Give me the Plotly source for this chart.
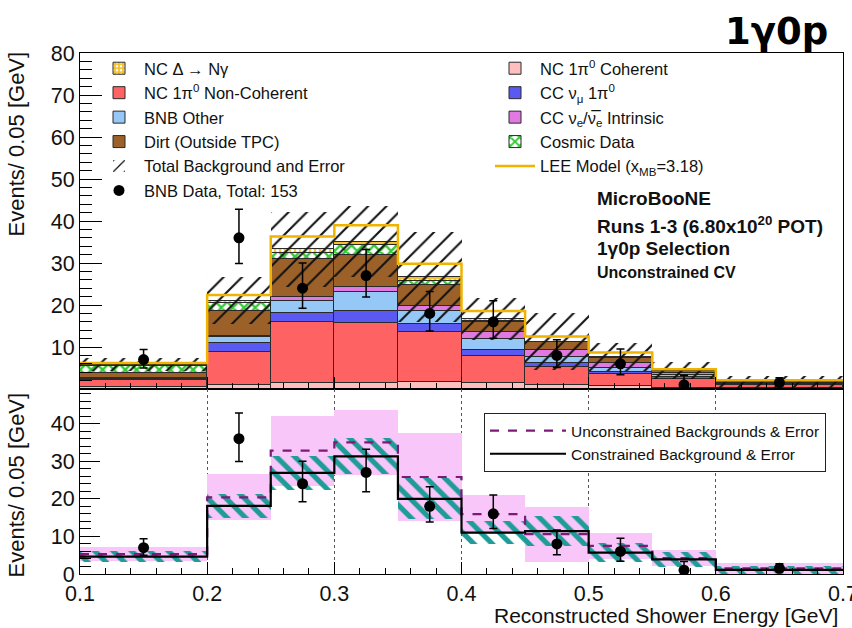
import numpy as np
import plotly.graph_objects as go

# ---------------- data ----------------
bin_edges = [0.1, 0.2, 0.25, 0.3, 0.35, 0.4, 0.45, 0.5, 0.55, 0.6, 0.7]
x_ticks = [0.1, 0.2, 0.3, 0.4, 0.5, 0.6, 0.7]

nc_coherent    = [0.4, 1.0, 1.5, 1.4, 1.7, 1.5, 1.0, 0.7, 0.3, 0.2]
nc_noncoherent = [1.7, 7.8, 14.4, 14.3, 11.9, 6.4, 4.2, 2.8, 2.1, 0.8]
cc_numu_pi0    = [0.2, 2.2, 2.2, 2.9, 1.9, 1.4, 1.1, 0.6, 0.5, 0.15]
bnb_other      = [0.2, 1.3, 2.9, 4.6, 3.1, 2.6, 1.4, 1.0, 0.4, 0.15]
cc_nue         = [0.1, 0.4, 0.8, 1.2, 1.2, 1.7, 1.6, 1.1, 0.5, 0.1]
dirt           = [1.2, 5.9, 9.1, 7.5, 5.0, 2.4, 1.8, 1.2, 0.6, 0.25]
cosmic         = [1.7, 1.8, 1.6, 2.4, 0.9, 0.2, 0.0, 0.0, 0.0, 0.0]
nc_delta       = [0.3, 0.6, 0.8, 0.8, 0.9, 0.4, 0.2, 0.2, 0.1, 0.05]
lee_model      = [6.2, 22.4, 36.3, 39.0, 29.8, 18.6, 12.5, 8.7, 4.7, 2.1]
total_bkg_err  = [1.6, 5.6, 8.9, 8.5, 10.7, 5.0, 6.8, 3.4, 2.0, 1.4]

bnb_data    = [7, 36, 24, 27, 18, 16, 8, 6, 1, 1.5]
data_err_up = [2.4, 6.8, 6.0, 6.2, 5.2, 5.0, 3.7, 3.5, 2.3, 1.2]
data_err_dn = [2.0, 6.1, 4.8, 5.1, 4.2, 3.9, 2.9, 2.6, 0.8, 0.8]

unconstrained_bkg = [5.3, 20.4, 32.8, 35.0, 25.8, 15.9, 10.6, 7.5, 4.2, 1.5]
unconstrained_err = [1.8, 6.1, 9.3, 8.6, 11.7, 5.2, 7.3, 3.5, 2.1, 1.4]
constrained_bkg   = [4.6, 18.1, 26.9, 31.3, 20.0, 11.0, 11.4, 5.7, 3.9, 1.1]
constrained_err   = [1.4, 3.1, 4.5, 4.8, 5.5, 3.0, 4.0, 2.5, 2.0, 1.1]

# ---------------- helpers ----------------
W, H = 852, 628
def fx(p): return p / W
def fy(p): return 1 - p / H

edges = np.array(bin_edges)
centers = 0.5 * (edges[:-1] + edges[1:])
widths = edges[1:] - edges[:-1]
FONT = "Liberation Sans, Arial, sans-serif"

fig = go.Figure()

# stacked components (bottom -> top)
stack = [
    (nc_coherent, "NC 1π<sup>0</sup> Coherent", "#ffbfbf", None, "legend2", 1),
    (nc_noncoherent, "NC 1π<sup>0</sup> Non-Coherent", "#ff6262", None, "legend", 2),
    (cc_numu_pi0, "CC ν<sub>μ</sub> 1π<sup>0</sup>", "#5a5af2", None, "legend2", 2),
    (bnb_other, "BNB Other", "#95c7f7", None, "legend", 3),
    (cc_nue, "CC ν<sub>e</sub>/ν̅<sub>e</sub> Intrinsic", "#e07ae0", None, "legend2", 3),
    (dirt, "Dirt (Outside TPC)", "#9c6129", None, "legend", 4),
    (cosmic, "Cosmic Data", "#ffffff",
     dict(shape="x", fgcolor="#36c836", bgcolor="#ffffff", size=8, solidity=0.5,
          fgopacity=1), "legend2", 4),
    (nc_delta, "NC Δ → Nγ", "#f4c22c",
     dict(shape=".", fgcolor="#ffffff", bgcolor="#f4c22c", size=5, solidity=0.3,
          fgopacity=1), "legend", 1),
]
base = np.zeros(len(centers))
for vals, name, color, pattern, leg, rank in stack:
    vals = np.array(vals, dtype=float)
    marker = dict(color=color, line=dict(color="#2a2a2a", width=1))
    if pattern is not None:
        marker["pattern"] = pattern
    fig.add_trace(go.Bar(
        x=centers, y=vals, base=base, width=widths, name=name, marker=marker,
        xaxis="x", yaxis="y", legend=leg, legendrank=rank))
    base = base + vals
total = base.copy()

# Total background and error (hatched)
err = np.array(total_bkg_err)
fig.add_trace(go.Bar(
    x=centers, y=2 * err, base=total - err, width=widths,
    name="Total Background and Error",
    marker=dict(color="rgba(255,255,255,0)", line=dict(width=0),
                pattern=dict(shape="/", fgcolor="#111111", fgopacity=1,
                             size=13, solidity=0.16, fillmode="overlay")),
    xaxis="x", yaxis="y", legend="legend", legendrank=5))

# LEE model step line
lee = list(lee_model) + [lee_model[-1]]
fig.add_trace(go.Scatter(
    x=edges, y=lee, mode="lines", line=dict(shape="hv", color="#f0b400", width=2.5),
    name="LEE Model (x<sub>MB</sub>=3.18)", xaxis="x", yaxis="y",
    legend="legend2", legendrank=5))

# Data (top)
fig.add_trace(go.Scatter(
    x=centers, y=bnb_data, mode="markers",
    marker=dict(color="black", size=11),
    error_y=dict(type="data", array=data_err_up, arrayminus=data_err_dn,
                 color="black", thickness=1.5, width=4),
    name="BNB Data, Total: 153", xaxis="x", yaxis="y",
    legend="legend", legendrank=6))

# ---------------- bottom panel ----------------
ue = np.array(unconstrained_err)
ub = np.array(unconstrained_bkg)
fig.add_trace(go.Bar(
    x=centers, y=2 * ue, base=ub - ue, width=widths,
    marker=dict(color="#f8c6f8", line=dict(width=0)),
    showlegend=False, xaxis="x2", yaxis="y2"))

ce = np.array(constrained_err)
cb = np.array(constrained_bkg)
fig.add_trace(go.Bar(
    x=centers, y=2 * ce, base=cb - ce, width=widths,
    marker=dict(color="rgba(255,255,255,0)", line=dict(width=0),
                pattern=dict(shape="\\", fgcolor="#1f9c98", fgopacity=1,
                             size=13, solidity=0.4, fillmode="overlay")),
    showlegend=False, xaxis="x2", yaxis="y2"))

fig.add_trace(go.Scatter(
    x=edges, y=list(unconstrained_bkg) + [unconstrained_bkg[-1]], mode="lines",
    line=dict(shape="hv", color="#7d1a78", width=2.2, dash="dash"),
    name="Unconstrained Backgrounds & Error", xaxis="x2", yaxis="y2", legend="legend3"))

fig.add_trace(go.Scatter(
    x=edges, y=list(constrained_bkg) + [constrained_bkg[-1]], mode="lines",
    line=dict(shape="hv", color="black", width=2.2),
    name="Constrained Background & Error", xaxis="x2", yaxis="y2", legend="legend3"))

fig.add_trace(go.Scatter(
    x=centers, y=bnb_data, mode="markers",
    marker=dict(color="black", size=11),
    error_y=dict(type="data", array=data_err_up, arrayminus=data_err_dn,
                 color="black", thickness=1.5, width=4),
    showlegend=False, xaxis="x2", yaxis="y2"))

# ---------------- layout ----------------
xdom = [fx(80), fx(843)]
common_x = dict(range=[0.1, 0.7], tickmode="array", tickvals=x_ticks,
                ticks="inside", ticklen=12, automargin=False,
                tickcolor="black", showline=True, linecolor="black", linewidth=1,
                mirror=True, zeroline=False,
                minor=dict(ticks="inside", ticklen=6, tickmode="linear", dtick=0.02, tick0=0.1,
                           tickcolor="black", showgrid=False))
axis_font = dict(family=FONT, size=21.5, color="#111")

fig.update_layout(
    template="none",
    width=W, height=H, margin=dict(l=0, r=0, t=0, b=0, autoexpand=False),
    paper_bgcolor="white", plot_bgcolor="white",
    barmode="overlay", bargap=0,
    font=dict(family=FONT, color="#111"),
    xaxis=dict(domain=xdom, anchor="y", showticklabels=False, showgrid=False, **common_x),
    xaxis2=dict(domain=xdom, anchor="y2", showticklabels=True, tickfont=axis_font,
                ticklabeloverflow="allow",
                showgrid=True, gridcolor="#555", griddash="dot", gridwidth=1,
                matches="x", **common_x),
    yaxis=dict(domain=[fy(389), fy(53)], anchor="x", range=[0, 80], automargin=False,
               tickmode="array", tickvals=[0, 10, 20, 30, 40, 50, 60, 70, 80],
               ticktext=["", "10", "20", "30", "40", "50", "60", "70", "80"],
               ticks="inside", ticklen=22, tickcolor="black", tickfont=axis_font,
               showline=True, linecolor="black", mirror=True, showgrid=False, zeroline=False,
               minor=dict(ticks="inside", ticklen=12, tickmode="linear", tick0=0, dtick=2,
                          tickcolor="black", showgrid=False)),
    yaxis2=dict(domain=[fy(574), fy(389)], anchor="x2", range=[0, 49.2], automargin=False,
                tickmode="array", tickvals=[0, 10, 20, 30, 40],
                ticks="inside", ticklen=20, tickcolor="black", tickfont=axis_font,
                showline=True, linecolor="black", mirror=True, showgrid=False, zeroline=False,
                minor=dict(ticks="inside", ticklen=11, tickmode="linear", tick0=0, dtick=2,
                           tickcolor="black", showgrid=False)),
    legend=dict(x=fx(94), y=fy(51), xanchor="left", yanchor="top",
                font=dict(family=FONT, size=16.5, color="#111"), bgcolor="rgba(0,0,0,0)",
                traceorder="normal", tracegroupgap=0, itemwidth=40, borderwidth=0),
    legend2=dict(x=fx(490), y=fy(51), xanchor="left", yanchor="top",
                 font=dict(family=FONT, size=16.5, color="#111"), bgcolor="rgba(0,0,0,0)",
                 traceorder="normal", tracegroupgap=0, itemwidth=40, borderwidth=0),
    legend3=dict(x=fx(484), y=fy(413), xanchor="left", yanchor="top",
                 font=dict(family=FONT, size=15.5, color="#111"), bgcolor="white",
                 bordercolor="#222", borderwidth=1, traceorder="normal", itemwidth=76),
)

annotations = [
    dict(text="<b>1γ0p</b>", x=fx(776), y=fy(31), xanchor="center", yanchor="middle",
         font=dict(family="DejaVu Sans", size=37, color="black")),
    dict(text="<b>MicroBooNE</b>", x=fx(595), y=fy(198), xanchor="left", yanchor="middle",
         font=dict(family=FONT, size=19, color="#111")),
    dict(text="<b>Runs 1-3 (6.80x10<sup>20</sup> POT)</b>", x=fx(595), y=fy(225),
         xanchor="left", yanchor="middle", font=dict(family=FONT, size=19, color="#111")),
    dict(text="<b>1γ0p Selection</b>", x=fx(595), y=fy(249), xanchor="left", yanchor="middle",
         font=dict(family=FONT, size=19, color="#111")),
    dict(text="<b>Unconstrained CV</b>", x=fx(595), y=fy(272), xanchor="left", yanchor="middle",
         font=dict(family=FONT, size=16, color="#111")),
    dict(text="Events/ 0.05 [GeV]", x=fx(16), y=fy(50), xanchor="center", yanchor="top",
         textangle=-90, font=dict(family=FONT, size=22, color="#111")),
    dict(text="Events/ 0.05 [GeV]", x=fx(16), y=fy(391), xanchor="center", yanchor="top",
         textangle=-90, font=dict(family=FONT, size=22, color="#111")),
    dict(text="Reconstructed Shower Energy [GeV]", x=fx(840), y=fy(615), xanchor="right",
         yanchor="middle", font=dict(family=FONT, size=21, color="#111")),
]
for a in annotations:
    a.update(xref="paper", yref="paper", showarrow=False)
fig.update_layout(annotations=annotations)

fig.write_html("out.html")
